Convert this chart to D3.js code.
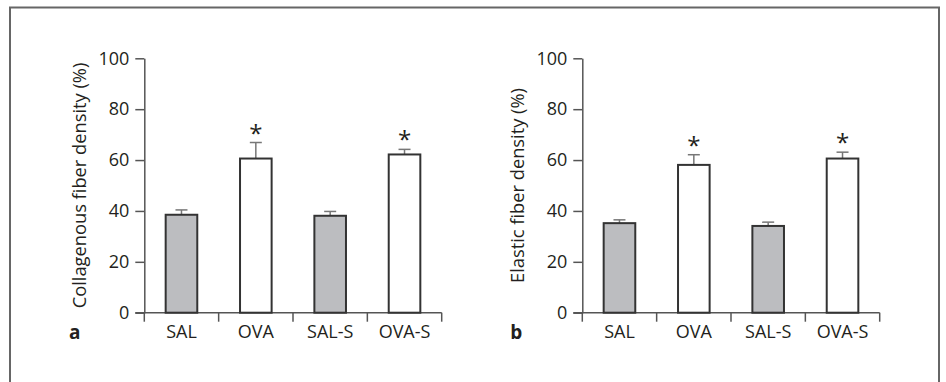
<!DOCTYPE html>
<html>
<head>
<meta charset="utf-8">
<script src="https://cdn.jsdelivr.net/npm/d3@7"></script>
<style>
  body { margin: 0; background: #fff; }
  svg text { font-family: "Open Sans", "Noto Sans", sans-serif; fill: #231f20; }
</style>
</head>
<body>
<svg id="chart" width="946" height="382"></svg>
<script>
// data
var categories = ["SAL", "OVA", "SAL-S", "OVA-S"];
var yTicks = [0, 20, 40, 60, 80, 100];
var collagenMean = [38.5, 60.6, 38.1, 62.2];
var collagenErr = [1.9, 6.3, 1.7, 2.0];
var elasticMean = [35.2, 58.1, 34.1, 60.6];
var elasticErr = [1.3, 4.0, 1.5, 2.5];
var significant = [false, true, false, true];

var svg = d3.select("#chart");

// outer frame
svg.append("path")
    .attr("d", "M10,400 L10,7.5 L939,7.5 L939,400")
    .attr("fill", "none")
    .attr("stroke", "#666")
    .attr("stroke-width", 2);

var fills = ["#bcbdc0", "#ffffff", "#bcbdc0", "#ffffff"];

function drawPanel(left, means, errs, yLabel, letter) {
    var top = 58.3, bottom = 312.7;
    var plotWidth = 297.4;

    var x = d3.scaleBand()
        .domain(categories)
        .range([0, plotWidth])
        .paddingInner(0.575)
        .paddingOuter(0.2875);
    var y = d3.scaleLinear().domain([0, 100]).range([bottom - top, 0]);

    var g = svg.append("g").attr("transform", "translate(" + left + "," + top + ")");

    // y axis
    var yAxis = g.append("g")
        .call(d3.axisLeft(y).tickValues(yTicks).tickSize(9).tickPadding(6).tickSizeOuter(0));
    yAxis.select(".domain").attr("stroke", "#555").attr("stroke-width", 1.5);
    yAxis.selectAll(".tick line").attr("stroke", "#555").attr("stroke-width", 1.5);
    yAxis.selectAll(".tick text")
        .style("font-size", "18px")
        .attr("fill", "#231f20");

    // x axis: baseline plus ticks between categories
    var band = plotWidth / categories.length;
    var xEdges = d3.range(categories.length + 1).map(function (i) { return i * band; });
    g.append("line")
        .attr("x1", -9).attr("x2", plotWidth)
        .attr("y1", y(0)).attr("y2", y(0))
        .attr("stroke", "#555").attr("stroke-width", 1.5);
    g.selectAll(".xtick").data(xEdges).enter().append("line")
        .attr("class", "xtick")
        .attr("x1", function (d) { return d; }).attr("x2", function (d) { return d; })
        .attr("y1", y(0)).attr("y2", y(0) + 9)
        .attr("stroke", "#555").attr("stroke-width", 1.5);
    g.selectAll(".xlabel").data(categories).enter().append("text")
        .attr("class", "xlabel")
        .attr("x", function (d) { return x(d) + x.bandwidth() / 2; })
        .attr("y", y(0) + 25.5)
        .attr("text-anchor", "middle")
        .style("font-size", "18px")
        .text(function (d) { return d; });

    // error bars
    var eb = g.selectAll(".err").data(categories).enter().append("g").attr("class", "err");
    eb.append("line")
        .attr("x1", function (d) { return x(d) + x.bandwidth() / 2; })
        .attr("x2", function (d) { return x(d) + x.bandwidth() / 2; })
        .attr("y1", function (d, i) { return y(means[i]); })
        .attr("y2", function (d, i) { return y(means[i] + errs[i]); })
        .attr("stroke", "#777").attr("stroke-width", 1.5);
    eb.append("line")
        .attr("x1", function (d) { return x(d) + x.bandwidth() / 2 - 6; })
        .attr("x2", function (d) { return x(d) + x.bandwidth() / 2 + 6; })
        .attr("y1", function (d, i) { return y(means[i] + errs[i]); })
        .attr("y2", function (d, i) { return y(means[i] + errs[i]); })
        .attr("stroke", "#777").attr("stroke-width", 1.5);

    // bars
    g.selectAll(".bar").data(categories).enter().append("rect")
        .attr("class", "bar")
        .attr("x", function (d) { return x(d); })
        .attr("width", x.bandwidth())
        .attr("y", function (d, i) { return y(means[i]); })
        .attr("height", function (d, i) { return y(0) - y(means[i]); })
        .attr("fill", function (d, i) { return fills[i]; })
        .attr("stroke", "#333")
        .attr("stroke-width", 2);

    // significance stars
    g.selectAll(".star").data(categories).enter()
        .filter(function (d, i) { return significant[i]; })
        .append("text")
        .attr("class", "star")
        .attr("x", function (d) { return x(d) + x.bandwidth() / 2; })
        .attr("y", function (d) {
            var i = categories.indexOf(d);
            return y(means[i] + errs[i]) - 1;
        })
        .attr("text-anchor", "middle")
        .style("font-size", "24px")
        .text("*");

    // y label
    g.append("text")
        .attr("transform", "translate(" + (-58.3) + "," + ((bottom - top) / 2) + ") rotate(-90)")
        .attr("text-anchor", "middle")
        .style("font-size", "18.3px")
        .text(yLabel);

    // panel letter
    g.append("text")
        .attr("x", letter.dx)
        .attr("y", y(0) + 26)
        .attr("text-anchor", "middle")
        .style("font-size", "19px")
        .style("font-weight", "bold")
        .text(letter.text);
}

drawPanel(144.3, collagenMean, collagenErr, "Collagenous fiber density (%)", { text: "a", dx: -69.5 });
drawPanel(582.3, elasticMean, elasticErr, "Elastic fiber density (%)", { text: "b", dx: -66 });
</script>
</body>
</html>
